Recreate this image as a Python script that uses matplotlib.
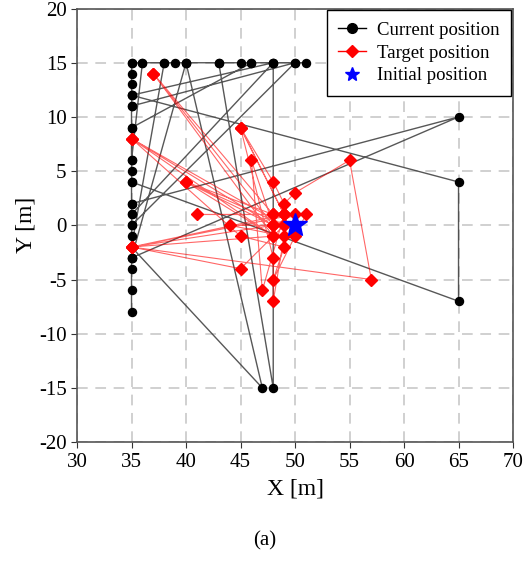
import numpy as np
import matplotlib.pyplot as plt
from matplotlib.lines import Line2D

plt.rcParams['font.family'] = ['Liberation Serif', 'DejaVu Serif']
plt.rcParams['axes.unicode_minus'] = False

# current positions (black), drawn as separate strokes
top_row_x = [35, 36, 38, 39, 40, 43, 45, 46, 48, 50, 51]
left_col_y = [15, 14, 13, 12, 11, 9, 8, 6, 5, 4, 2, 1, 0, -1, -2, -3, -4, -6, -8]
jump_strokes = [
    [(35, 12), (65, 4), (65, -7), (35, 4)],
    [(35, 2), (65, 10), (35, -3)],
    [(35, -2), (47, -15), (40, 15)],
    [(43, 15), (48, -15), (48, 15)],
    [(35, 12), (48, 15), (35, 1)],
    [(35, 11), (50, 15), (35, 0)],
    [(35, 9), (46, 15)],
    [(36, 15), (35, 6)],
    [(38, 15), (35, -2)],
    [(40, 15), (35, -3)],
]

# target positions (red), in visiting order
target_x = [37, 48, 35, 48, 40, 48, 41, 49, 45, 48, 49, 50, 55, 57, 35, 48, 46, 47,
            49, 45, 48, 48, 49, 44, 49, 45, 35, 48, 37, 48, 51, 50, 48, 49, 45, 35,
            49, 40, 48, 50, 35, 49]
target_y = [14, 0, 8, -1, 4, 1, 1, 1, 9, 4, 2, 3, 6, -5, -2, 0, 6, -6,
            1, 9, -3, -7, -1, 0, 0, -4, -2, -1, 14, 1, 1, -1, -5, -2, -1, 8,
            0, 4, 0, 1, -2, 1]

init_x, init_y = 50, 0

fig = plt.figure(figsize=(5.3, 5.69), dpi=100)
ax = fig.add_axes([0.1453, 0.223, 0.8227, 0.762])

# black strokes
bx, by = [], []
for x in top_row_x:
    bx.append(x); by.append(15)
bx.append(np.nan); by.append(np.nan)
for y in left_col_y:
    bx.append(35); by.append(y)
for s in jump_strokes:
    bx.append(np.nan); by.append(np.nan)
    for x, y in s:
        bx.append(x); by.append(y)
ax.plot(bx, by, color='#3a3a3a', lw=1.0, alpha=0.85, zorder=2)
ax.plot(bx, by, ls='none', marker='o', ms=5.8, color='black', zorder=3)

ax.plot(target_x, target_y, color='red', lw=0.8, alpha=0.6, zorder=4)
ax.plot(target_x, target_y, ls='none', marker='D', ms=5.8, color='red', zorder=5)

ax.plot(init_x, init_y, ls='none', marker='*', ms=18, color='blue', zorder=6)

ax.set_xlim(30, 70)
ax.set_ylim(-20, 20)
ax.set_xticks(np.arange(30, 71, 5))
ax.set_yticks(np.arange(-20, 21, 5))
ax.grid(True, color='#c4c4c4', ls=(0, (7, 5)), lw=1.1)
ax.set_axisbelow(True)
ax.tick_params(direction='out', length=4, labelsize=15, color='#333333')
for sp in ax.spines.values():
    sp.set_color('#555555')
    sp.set_linewidth(1.2)

ax.set_xlabel('X [m]', fontsize=17, labelpad=5)
ax.set_ylabel('Y [m]', fontsize=17, labelpad=2)
fig.text(0.5, 0.05, '(a)', fontsize=15, ha='center', va='center')

handles = [
    Line2D([], [], color='black', marker='o', ms=7, lw=1),
    Line2D([], [], color='red', marker='D', ms=6, lw=1),
    Line2D([], [], color='blue', marker='*', ms=10, ls='none'),
]
leg = ax.legend(handles, ['Current position', 'Target position', 'Initial position'],
                loc='upper right', fontsize=13.5, frameon=True, fancybox=False,
                framealpha=1, edgecolor='black', borderaxespad=0.1,
                handlelength=1.5, handletextpad=0.6, labelspacing=0.3, borderpad=0.6)
leg.get_frame().set_linewidth(1.0)

fig.savefig('out.png', dpi=100)
